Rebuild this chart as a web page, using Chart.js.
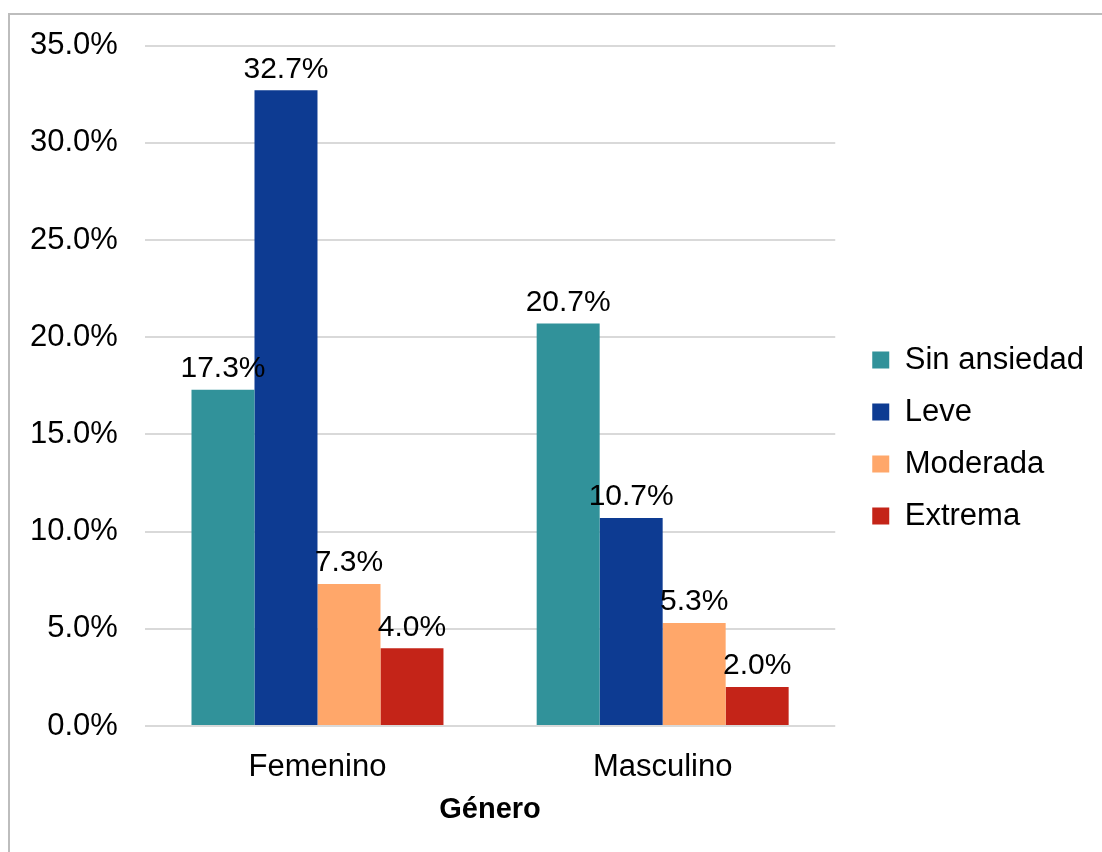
<!DOCTYPE html>
<html>
<head>
<meta charset="utf-8">
<script src="https://cdn.jsdelivr.net/npm/chart.js@4"></script>
<style>
  html, body { margin: 0; padding: 0; background: #fff; }
  #wrap { position: relative; width: 1102px; height: 852px; }
  #frame { position: absolute; left: 8px; top: 13px; width: 1200px; height: 900px;
           border-top: 2px solid #bdbdbd; border-left: 2px solid #bdbdbd; }
  canvas { position: absolute; left: 0; top: 0; }
</style>
</head>
<body>
<div id="wrap">
  <div id="frame"></div>
  <canvas id="bar" width="1102" height="852"></canvas>
</div>
<script>
var generos = ['Femenino', 'Masculino'];
var sinAnsiedad = [17.3, 20.7];
var leve = [32.7, 10.7];
var moderada = [7.3, 5.3];
var extrema = [4.0, 2.0];

var fontFam = 'Arial, "Liberation Sans", sans-serif';

// etiquetas de porcentaje encima de cada barra
var etiquetas = {
  id: 'etiquetas',
  afterDatasetsDraw: function (chart) {
    var ctx = chart.ctx;
    ctx.save();
    ctx.font = '30px ' + fontFam;
    ctx.fillStyle = '#000';
    ctx.textAlign = 'center';
    ctx.textBaseline = 'bottom';
    chart.data.datasets.forEach(function (ds, i) {
      chart.getDatasetMeta(i).data.forEach(function (bar, j) {
        ctx.fillText(ds.data[j].toFixed(1) + '%', bar.x, bar.y - 6);
      });
    });
    ctx.restore();
  }
};

// separa un poco más la leyenda del área del gráfico
var leyendaSeparada = {
  id: 'leyendaSeparada',
  afterLayout: function (chart) {
    if (chart.legend) {
      chart.legend.left += 16;
      chart.legend.right += 16;
      chart.legend.top += 6;
      chart.legend.bottom += 6;
    }
  }
};

var ctx = document.getElementById('bar').getContext('2d');
new Chart(ctx, {
  type: 'bar',
  data: {
    labels: generos,
    datasets: [
      { label: 'Sin ansiedad', data: sinAnsiedad, backgroundColor: '#31929a' },
      { label: 'Leve', data: leve, backgroundColor: '#0d3b92' },
      { label: 'Moderada', data: moderada, backgroundColor: '#ffa76a' },
      { label: 'Extrema', data: extrema, backgroundColor: '#c42418' }
    ]
  },
  options: {
    responsive: false,
    animation: false,
    layout: { padding: { left: 3, right: 24, top: 32, bottom: 20 } },
    datasets: { bar: { categoryPercentage: 0.73, barPercentage: 1.0 } },
    plugins: {
      legend: {
        position: 'right',
        labels: {
          boxWidth: 17, boxHeight: 17, padding: 21,
          color: '#000',
          font: { size: 31, family: fontFam }
        }
      },
      tooltip: { enabled: false }
    },
    scales: {
      x: {
        grid: { display: false },
        border: { display: false },
        ticks: { color: '#000', padding: 15, font: { size: 31, family: fontFam } },
        title: { display: true, text: 'Género', color: '#000', padding: { top: -9, bottom: 5 },
                 font: { size: 29, weight: 'bold', family: fontFam } }
      },
      y: {
        min: 0, max: 35,
        ticks: {
          stepSize: 5, color: '#000', padding: 27,
          font: { size: 31, family: fontFam },
          callback: function (v) { return v.toFixed(1) + '%'; }
        },
        grid: { color: '#d9d9d9', lineWidth: 2, drawTicks: false },
        border: { display: false }
      }
    }
  },
  plugins: [etiquetas, leyendaSeparada]
});
</script>
</body>
</html>
